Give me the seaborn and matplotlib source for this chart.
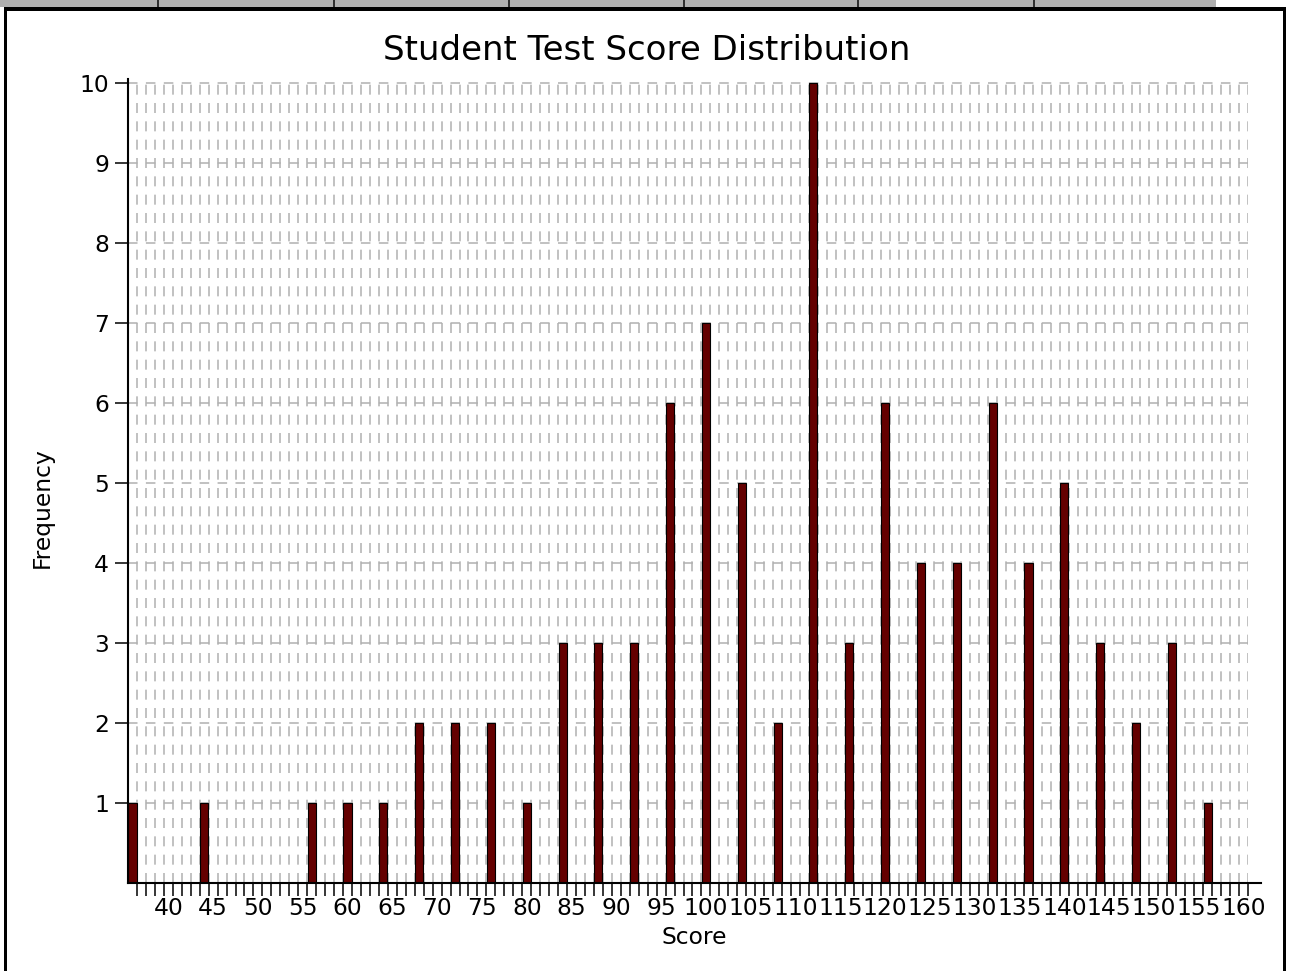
import numpy as np
import pandas as pd
import seaborn as sns
import matplotlib.pyplot as plt
from matplotlib.patches import Rectangle
from matplotlib.ticker import FixedLocator

# Score bins (bar centres) and how many students landed in each
scores = [36, 44, 56, 60, 64, 68, 72, 76, 80, 84, 88, 92, 96, 100, 104, 108,
          112, 116, 120, 124, 128, 132, 136, 140, 144, 148, 152, 156]
freq = [1, 1, 1, 1, 1, 2, 2, 2, 1, 3, 3, 3, 6, 7, 5, 2,
        10, 3, 6, 4, 4, 6, 4, 5, 3, 2, 3, 1]

x_labels = list(range(40, 161, 5))
y_labels = list(range(1, 11))

df = pd.DataFrame({'Score': scores, 'Frequency': freq})

sns.set_style('ticks')
plt.rcParams['font.family'] = ['DejaVu Sans']
plt.rcParams['lines.scale_dashes'] = False
plt.rcParams['text.color'] = 'black'
plt.rcParams['axes.labelcolor'] = 'black'
plt.rcParams['xtick.color'] = 'black'
plt.rcParams['ytick.color'] = 'black'

W, H = 1290, 971
fig = plt.figure(figsize=(W / 100, H / 100), dpi=100)
ax = fig.add_axes([128 / W, 1 - 883 / H, 1120 / W, 804 / H])

# Draw the bars on a numeric x axis
sns.barplot(data=df, x='Score', y='Frequency', native_scale=True, width=0.225,
            color='#640000', saturation=1, edgecolor='black', linewidth=0.8,
            errorbar=None, ax=ax)

ax.set_xlim(35.5, 160.5)
ax.set_ylim(0, 10.05)

ax.xaxis.set_major_locator(FixedLocator(x_labels))
ax.set_xticklabels([str(v) for v in x_labels])
ax.xaxis.set_minor_locator(FixedLocator(np.arange(36.5, 161, 1)))
ax.set_yticks(y_labels)
ax.set_yticklabels([str(v) for v in y_labels])

ax.tick_params(axis='x', which='major', length=0, pad=10, labelsize=16.8, labelcolor='black')
ax.tick_params(axis='x', which='minor', length=9, width=1.1, direction='out', color='black')
ax.tick_params(axis='y', which='major', length=9.4, width=1.1, pad=4.3,
               labelsize=16.8, direction='out', color='black', labelcolor='black')

# Dashed grid behind the bars
ax.set_axisbelow(True)
ax.grid(False)
ax.grid(True, which='minor', axis='x', color='#b0b0b0', lw=1.1, linestyle=(0, (7.2, 6.0)))
ax.grid(True, which='major', axis='y', color='#b0b0b0', lw=1.1, linestyle=(0, (6.84, 6.06)))

ax.spines[['top', 'right']].set_visible(False)
for s in ['left', 'bottom']:
    ax.spines[s].set_linewidth(1.5)
    ax.spines[s].set_color('black')
ax.spines['bottom'].set_bounds(35.5, 162)

ax.set_xlabel('Score', fontsize=16.8, va='center', color='black')
ax.xaxis.set_label_coords(0.5054, -0.0684)
ax.set_ylabel('Frequency', fontsize=16.8, va='center', color='black')
ax.yaxis.set_label_coords(-0.0768, 0.4664)

fig.text(647 / W, 1 - 50 / H, 'Student Test Score Distribution',
         ha='center', va='center', fontsize=24.5, color='black')

# window chrome: grey header strip and black panel border
fig.add_artist(Rectangle((0, 1 - 7 / H), 1216 / W, 7 / H, transform=fig.transFigure,
                         color='#b0b0b0', lw=0))
for dx in [157, 333, 508, 683, 857, 1033]:
    fig.add_artist(Rectangle((dx / W, 1 - 7 / H), 2 / W, 7 / H, transform=fig.transFigure,
                             color='#303030', lw=0))
fig.add_artist(Rectangle((4 / W, 1 - 11 / H), 1282 / W, 4 / H, transform=fig.transFigure,
                         color='black', lw=0))
fig.add_artist(Rectangle((4 / W, 0), 3 / W, 964 / H, transform=fig.transFigure,
                         color='black', lw=0))
fig.add_artist(Rectangle((1283 / W, 0), 3 / W, 964 / H, transform=fig.transFigure,
                         color='black', lw=0))

fig.savefig('out.png', dpi=100)
